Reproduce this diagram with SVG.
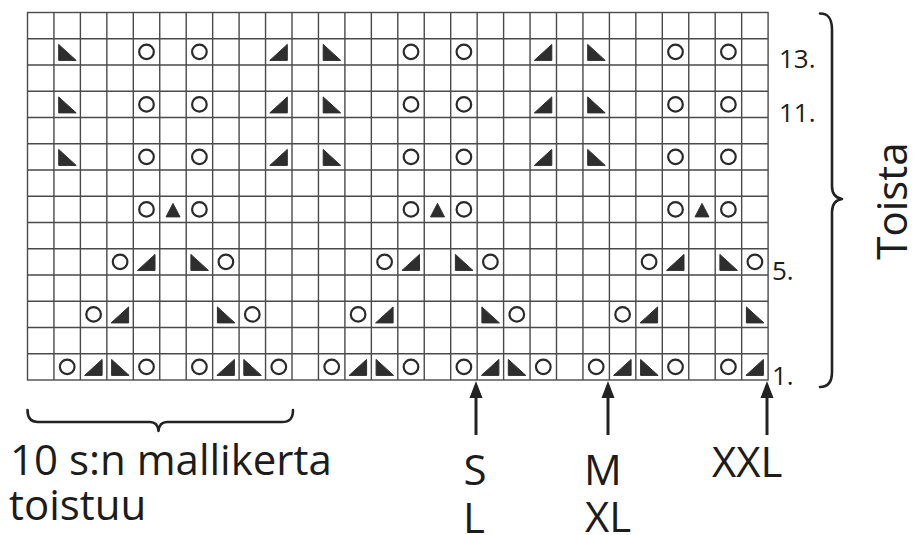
<svg xmlns="http://www.w3.org/2000/svg" width="917" height="535" viewBox="0 0 917 535">
<style>
.grid{fill:none;stroke:#4a4a4a;stroke-width:1.4}
.txt{font-family:"Open Sans","Liberation Sans",sans-serif;fill:#1c1c1c}
.row{font-size:26px}
.big{font-size:42px}
.ln{fill:none;stroke:#222;stroke-width:2.6;stroke-linecap:round;stroke-linejoin:round}
.sh{stroke:#222;stroke-width:3}
.ah{fill:#222}
.o{fill:#fff;stroke:#2a2a2a;stroke-width:2.2}
.tri{fill:#2e2e2e;stroke:#2e2e2e;stroke-width:1;stroke-linejoin:round}
</style>
<defs>
<circle id="o" class="o" cx="0" cy="0" r="7.3"/>
<polygon id="L" class="tri" points="-8.5,-7.5 -8.5,8.5 9,8.5"/>
<polygon id="R" class="tri" points="8.5,-7.5 8.5,8.5 -9,8.5"/>
<polygon id="U" class="tri" points="0,-6 -7,7.5 7,7.5"/>
</defs>
<rect width="917" height="535" fill="#fff"/>
<g id="grid">
<rect class="grid" x="27.5" y="12.5" width="740.6" height="367.5"/>
<path class="grid" d="M53.95,12.5V380M80.4,12.5V380M106.85,12.5V380M133.3,12.5V380M159.75,12.5V380M186.2,12.5V380M212.65,12.5V380M239.1,12.5V380M265.55,12.5V380M292,12.5V380M318.45,12.5V380M344.9,12.5V380M371.35,12.5V380M397.8,12.5V380M424.25,12.5V380M450.7,12.5V380M477.15,12.5V380M503.6,12.5V380M530.05,12.5V380M556.5,12.5V380M582.95,12.5V380M609.4,12.5V380M635.85,12.5V380M662.3,12.5V380M688.75,12.5V380M715.2,12.5V380M741.65,12.5V380M27.5,38.75H768.1M27.5,65H768.1M27.5,91.25H768.1M27.5,117.5H768.1M27.5,143.75H768.1M27.5,170H768.1M27.5,196.25H768.1M27.5,222.5H768.1M27.5,248.75H768.1M27.5,275H768.1M27.5,301.25H768.1M27.5,327.5H768.1M27.5,353.75H768.1"/>
</g>
<g id="row13">
<use href="#L" x="67.2" y="51.9"/><use href="#o" x="146.5" y="51.9"/><use href="#o" x="199.4" y="51.9"/><use href="#R" x="278.8" y="51.9"/>
<use href="#L" x="331.7" y="51.9"/><use href="#o" x="411" y="51.9"/><use href="#o" x="463.9" y="51.9"/><use href="#R" x="543.3" y="51.9"/>
<use href="#L" x="596.2" y="51.9"/><use href="#o" x="675.5" y="51.9"/><use href="#o" x="728.4" y="51.9"/>
</g>
<g id="row11">
<use href="#L" x="67.2" y="104.4"/><use href="#o" x="146.5" y="104.4"/><use href="#o" x="199.4" y="104.4"/><use href="#R" x="278.8" y="104.4"/>
<use href="#L" x="331.7" y="104.4"/><use href="#o" x="411" y="104.4"/><use href="#o" x="463.9" y="104.4"/><use href="#R" x="543.3" y="104.4"/>
<use href="#L" x="596.2" y="104.4"/><use href="#o" x="675.5" y="104.4"/><use href="#o" x="728.4" y="104.4"/>
</g>
<g id="row9">
<use href="#L" x="67.2" y="156.9"/><use href="#o" x="146.5" y="156.9"/><use href="#o" x="199.4" y="156.9"/><use href="#R" x="278.8" y="156.9"/>
<use href="#L" x="331.7" y="156.9"/><use href="#o" x="411" y="156.9"/><use href="#o" x="463.9" y="156.9"/><use href="#R" x="543.3" y="156.9"/>
<use href="#L" x="596.2" y="156.9"/><use href="#o" x="675.5" y="156.9"/><use href="#o" x="728.4" y="156.9"/>
</g>
<g id="row7">
<use href="#o" x="146.5" y="209.4"/><use href="#U" x="173" y="209.4"/><use href="#o" x="199.4" y="209.4"/>
<use href="#o" x="411" y="209.4"/><use href="#U" x="437.5" y="209.4"/><use href="#o" x="463.9" y="209.4"/>
<use href="#o" x="675.5" y="209.4"/><use href="#U" x="702" y="209.4"/><use href="#o" x="728.4" y="209.4"/>
</g>
<g id="row5">
<use href="#o" x="120.1" y="261.9"/><use href="#R" x="146.5" y="261.9"/><use href="#L" x="199.4" y="261.9"/><use href="#o" x="225.9" y="261.9"/>
<use href="#o" x="384.6" y="261.9"/><use href="#R" x="411" y="261.9"/><use href="#L" x="463.9" y="261.9"/><use href="#o" x="490.4" y="261.9"/>
<use href="#o" x="649.1" y="261.9"/><use href="#R" x="675.5" y="261.9"/><use href="#L" x="728.4" y="261.9"/><use href="#o" x="754.9" y="261.9"/>
</g>
<g id="row3">
<use href="#o" x="93.6" y="314.4"/><use href="#R" x="120.1" y="314.4"/><use href="#L" x="225.9" y="314.4"/><use href="#o" x="252.3" y="314.4"/>
<use href="#o" x="358.1" y="314.4"/><use href="#R" x="384.6" y="314.4"/><use href="#L" x="490.4" y="314.4"/><use href="#o" x="516.8" y="314.4"/>
<use href="#o" x="622.6" y="314.4"/><use href="#R" x="649.1" y="314.4"/><use href="#L" x="754.9" y="314.4"/>
</g>
<g id="row1">
<use href="#o" x="67.2" y="366.9"/><use href="#R" x="93.6" y="366.9"/><use href="#L" x="120.1" y="366.9"/><use href="#o" x="146.5" y="366.9"/>
<use href="#o" x="199.4" y="366.9"/><use href="#R" x="225.9" y="366.9"/><use href="#L" x="252.3" y="366.9"/><use href="#o" x="278.8" y="366.9"/>
<use href="#o" x="331.7" y="366.9"/><use href="#R" x="358.1" y="366.9"/><use href="#L" x="384.6" y="366.9"/><use href="#o" x="411" y="366.9"/>
<use href="#o" x="463.9" y="366.9"/><use href="#R" x="490.4" y="366.9"/><use href="#L" x="516.8" y="366.9"/><use href="#o" x="543.3" y="366.9"/>
<use href="#o" x="596.2" y="366.9"/><use href="#R" x="622.6" y="366.9"/><use href="#L" x="649.1" y="366.9"/><use href="#o" x="675.5" y="366.9"/>
<use href="#o" x="728.4" y="366.9"/><use href="#R" x="754.9" y="366.9"/>
</g>
<g id="row-labels" class="txt row">
<text x="779" y="68.3">13.</text>
<text x="779" y="121.6">11.</text>
<text x="772" y="279.6">5.</text>
<text x="772" y="384.6">1.</text>
</g>
<g id="connectors">
<path id="brace-right" class="ln" d="M820,13.5C828,13.5 832,18 832,30L832,186C832,194 836,198 842,199C836,200 832,204 832,212L832,372C832,382 828,387 820,387"/>
<path id="brace-bottom" class="ln" d="M27.5,410C27.5,418 30.5,422 38,422L150,422C155,422 158,425 158.5,431C159,425 162,422 167,422L282,422C290,422 293,418 293,410"/>
<g id="arrow-s"><line class="sh" x1="476" y1="435" x2="476" y2="396"/><polygon class="ah" points="476,381 469.5,398 482.5,398"/></g>
<g id="arrow-m"><line class="sh" x1="608" y1="435" x2="608" y2="396"/><polygon class="ah" points="608,381 601.5,398 614.5,398"/></g>
<g id="arrow-xxl"><line class="sh" x1="767" y1="435" x2="767" y2="396"/><polygon class="ah" points="767,381 760.5,398 773.5,398"/></g>
</g>
<g id="labels" class="txt big">
<text transform="translate(907,201) rotate(-90)" text-anchor="middle">Toista</text>
<text x="10" y="475">10 s:n mallikerta</text>
<text x="9" y="520">toistuu</text>
<text x="475" y="485" text-anchor="middle">S</text>
<text x="463" y="533">L</text>
<text x="584" y="485">M</text>
<text x="585" y="532">XL</text>
<text x="712" y="477">XXL</text>
</g>
</svg>
